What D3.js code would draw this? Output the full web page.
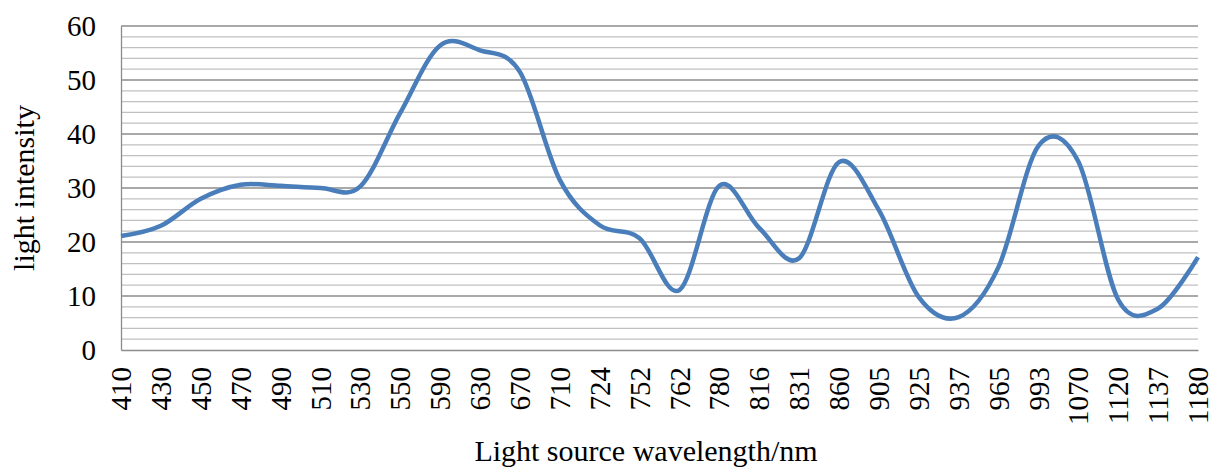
<!DOCTYPE html>
<html>
<head>
<meta charset="utf-8">
<script src="https://cdn.jsdelivr.net/npm/d3@7"></script>
<style>
  body { margin: 0; background: #fff; }
  text { font-family: "Liberation Serif", "Times New Roman", serif; fill: #000; }
</style>
</head>
<body>
<div id="line-graph"></div>
<script>
const wavelengths = ["410", "430", "450", "470", "490", "510", "530", "550", "590", "630",
    "670", "710", "724", "752", "762", "780", "816", "831", "860", "905",
    "925", "937", "965", "993", "1070", "1120", "1137", "1180"];
const intensity = [21.1, 23.0, 28.0, 30.6, 30.4, 30.0, 30.3, 43.9, 56.4, 55.5,
    51.5, 31.5, 23.1, 20.7, 11.1, 30.4, 22.6, 17.0, 34.8, 25.9,
    9.8, 6.1, 15.4, 37.8, 34.9, 9.3, 7.7, 17.2];
const yTicks = [0, 10, 20, 30, 40, 50, 60];

function initLineGraph(selector) {
    const margin = {top: 26, right: 12, bottom: 117, left: 121};
    const width = 1210 - margin.left - margin.right;
    const height = 467 - margin.top - margin.bottom;

    const dataset = wavelengths.map((w, i) => ({x: w, y: intensity[i]}));

    const xScale = d3.scalePoint()
        .domain(wavelengths)
        .range([0, width]);

    const yScale = d3.scaleLinear()
        .domain([0, 60])
        .range([height, 0]);

    const svg = d3.select(selector).append("svg")
        .attr("width", 1210)
        .attr("height", 467)
        .append("g")
        .attr("transform", `translate(${margin.left}, ${margin.top})`);

    // minor gridlines every 2
    svg.append("g")
        .selectAll("line")
        .data(d3.range(2, 60, 2).filter(v => v % 10 !== 0))
        .join("line")
        .attr("x1", 0).attr("x2", width)
        .attr("y1", d => yScale(d)).attr("y2", d => yScale(d))
        .attr("stroke", "#c0c0c0")
        .attr("stroke-width", 1.3);

    // major gridlines
    svg.append("g")
        .selectAll("line")
        .data(yTicks.filter(v => v > 0))
        .join("line")
        .attr("x1", 0).attr("x2", width)
        .attr("y1", d => yScale(d)).attr("y2", d => yScale(d))
        .attr("stroke", "#8c8c8c")
        .attr("stroke-width", 1.3);

    const yAxis = svg.append("g")
        .call(d3.axisLeft(yScale).tickValues(yTicks).tickSize(0).tickPadding(25));
    yAxis.select(".domain").attr("stroke", "#8c8c8c").attr("stroke-width", 1.3);
    yAxis.selectAll("text")
        .style("font-size", "29px")
        .attr("dy", "0.33em");

    const xAxis = svg.append("g")
        .attr("transform", `translate(0, ${height})`)
        .call(d3.axisBottom(xScale).tickSize(0));
    xAxis.select(".domain").attr("stroke", "#8c8c8c").attr("stroke-width", 1.3);
    xAxis.selectAll("text")
        .style("font-size", "29px")
        .attr("transform", "rotate(-90)")
        .attr("text-anchor", "end")
        .attr("x", -17)
        .attr("y", 0)
        .attr("dy", "0.33em");

    const line = d3.line()
        .x(p => xScale(p.x))
        .y(p => yScale(p.y))
        .curve(d3.curveCardinal.tension(0));

    svg.append("path")
        .datum(dataset)
        .attr("fill", "none")
        .attr("stroke", "#4a7ebb")
        .attr("stroke-width", 4.5)
        .attr("stroke-linejoin", "round")
        .attr("d", line);

    svg.append("text")
        .attr("x", 646 - margin.left)
        .attr("y", 461 - margin.top)
        .attr("text-anchor", "middle")
        .style("font-size", "30px")
        .text("Light source wavelength/nm");

    svg.append("text")
        .attr("transform", `translate(${34 - margin.left}, ${188 - margin.top}) rotate(-90)`)
        .attr("text-anchor", "middle")
        .style("font-size", "30px")
        .text("light intensity");
}

document.addEventListener("DOMContentLoaded", function () {
    initLineGraph("#line-graph");
});
</script>
</body>
</html>
